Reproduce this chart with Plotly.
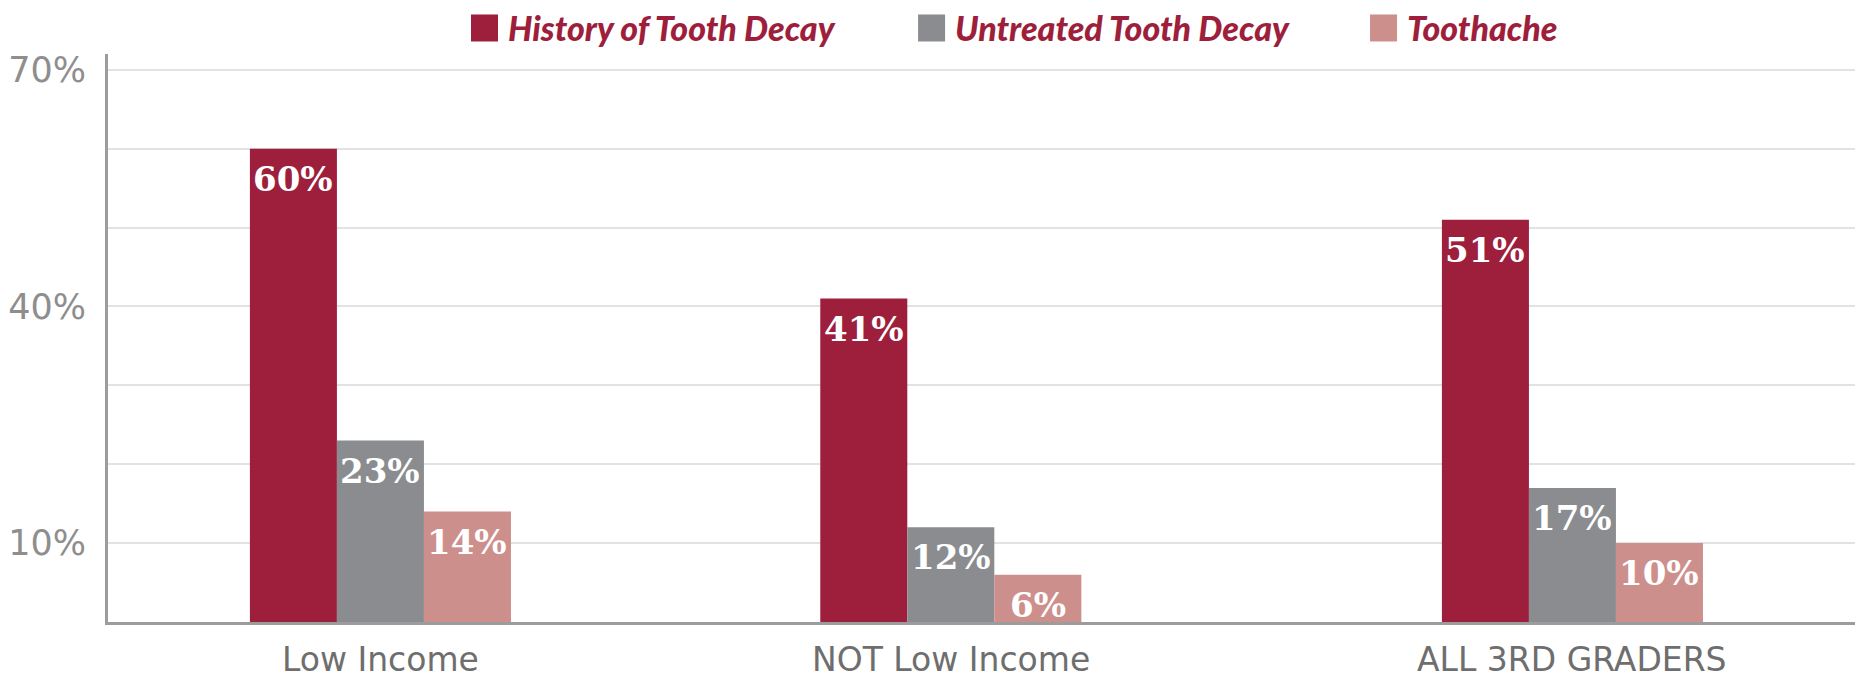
import plotly.graph_objects as go

# ---- data -------------------------------------------------------------
categories = ["Low Income", "NOT Low Income", "ALL 3RD GRADERS"]
series_names = ["History of Tooth Decay", "Untreated Tooth Decay", "Toothache"]
history_of_decay = [60, 41, 51]
untreated_decay = [23, 12, 17]
toothache = [14, 6, 10]
y_tick_values = [10, 40, 70]
y_tick_labels = ["10%", "40%", "70%"]

# ---- style ------------------------------------------------------------
COLORS = ["#9e1f3c", "#8a8c8f", "#cd8f8c"]
LEGEND_TEXT_COLOR = "#9e1f3c"
BAR_W = 0.146                       # width of one bar, in category units
GROUP_SHIFT = [0.013, -0.030, 0.013]  # nudges each cluster along the axis
PLOT_L, PLOT_R, PLOT_T, PLOT_B = 108, 0, 54, 58
FIG_W, FIG_H = 1855, 680
PLOT_W = FIG_W - PLOT_L - PLOT_R
PLOT_H = FIG_H - PLOT_T - PLOT_B

# legend swatch left edges and label offsets, in paper units
LEGEND_X = [0.2078, 0.4637, 0.7224]
SWATCH_W = 27 / PLOT_W
SWATCH_H = 27 / PLOT_H
LEGEND_Y = 1.0458
LABEL_GAP = 35 / PLOT_W

VALUE_FONT = dict(family="DejaVu Serif", size=34, color="white", weight="bold")

fig = go.Figure()

all_series = [history_of_decay, untreated_decay, toothache]
for k, (name, values, color) in enumerate(zip(series_names, all_series, COLORS)):
    offsets = [s + (k - 1.5) * BAR_W for s in GROUP_SHIFT]
    fig.add_trace(go.Bar(
        x=categories,
        y=values,
        name=name,
        width=BAR_W,
        offset=offsets,
        marker=dict(color=color, line=dict(width=0)),
        showlegend=False,
        hoverinfo="skip",
    ))
    # value label just inside the top of each bar
    for i, v in enumerate(values):
        fig.add_annotation(
            x=i + offsets[i] + BAR_W / 2, xref="x",
            y=v, yref="y", yanchor="top", yshift=-8,
            text=f"{v}%", showarrow=False,
            font=VALUE_FONT,
        )

# category labels under each cluster
for i, cat in enumerate(categories):
    fig.add_annotation(
        x=i + GROUP_SHIFT[i], xref="x",
        y=0, yref="paper", yanchor="top", yshift=-16,
        text=cat, showarrow=False,
        font=dict(family="DejaVu Sans", size=33, color="#6e6e6e"),
    )

# legend: coloured squares with bold italic names
for k, (name, color) in enumerate(zip(series_names, COLORS)):
    x0 = LEGEND_X[k]
    fig.add_shape(
        type="rect", xref="paper", yref="paper",
        x0=x0, x1=x0 + SWATCH_W,
        y0=LEGEND_Y - SWATCH_H / 2, y1=LEGEND_Y + SWATCH_H / 2,
        fillcolor=color, line=dict(width=0),
    )
    fig.add_annotation(
        x=x0 + LABEL_GAP, xref="paper", xanchor="left",
        y=LEGEND_Y, yref="paper", yanchor="middle",
        text=name, showarrow=False,
        font=dict(family="Lato", size=34, color=LEGEND_TEXT_COLOR,
                  weight=900, style="italic"),
    )

fig.update_layout(
    width=FIG_W, height=FIG_H,
    margin=dict(l=PLOT_L, r=PLOT_R, t=PLOT_T, b=PLOT_B, pad=0),
    paper_bgcolor="white",
    plot_bgcolor="white",
    barmode="overlay",
    showlegend=False,
    xaxis=dict(
        type="category",
        range=[-0.4441, 2.4871],
        showticklabels=False,
        showgrid=False,
        showline=True, linecolor="#9c9c9c", linewidth=3,
        ticks="",
        fixedrange=True,
    ),
    yaxis=dict(
        range=[0, 72],
        tickvals=y_tick_values,
        ticktext=y_tick_labels,
        tickfont=dict(family="DejaVu Sans", size=35, color="#8e8e8e"),
        ticks="",
        ticklabelstandoff=12,
        showgrid=True, gridcolor="#e2e2e2", gridwidth=1.5,
        minor=dict(dtick=10, tick0=0, showgrid=True,
                   gridcolor="#e2e2e2", gridwidth=1.5),
        zeroline=False,
        showline=True, linecolor="#9c9c9c", linewidth=3,
        fixedrange=True,
    ),
)

fig.write_html("out.html")
